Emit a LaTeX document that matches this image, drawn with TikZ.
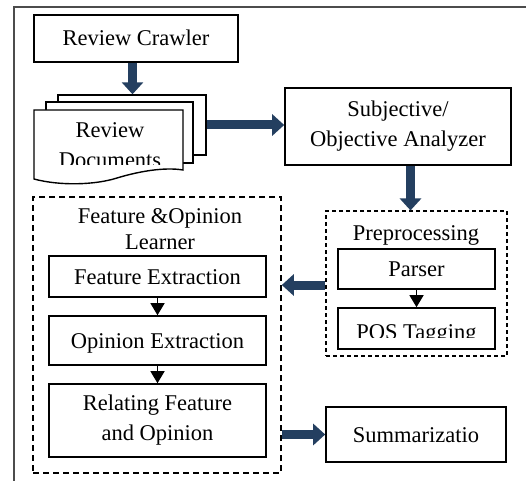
\documentclass[tikz,border=0pt]{standalone}
\usepackage{fontspec}
\setmainfont{Liberation Serif}
\usetikzlibrary{arrows.meta}
\definecolor{flownavy}{RGB}{36,63,96}
\begin{document}
\begin{tikzpicture}[x=1pt, y=-1pt,
    every node/.style={font=\fontsize{22.5}{30}\selectfont, inner sep=0pt},
    box/.style={draw, line width=1.6pt, fill=white, align=center},
    oneline/.style={text height=15pt, text depth=0pt},
    page/.style={draw, line width=1.4pt, fill=white},
    group/.style={draw, line width=1.6pt, dash pattern=on 6pt off 4pt},
    subgroup/.style={draw, line width=1.1pt, dash pattern=on 4pt off 3pt},
    bigarr/.style={flownavy, line width=9pt, -{Triangle[width=21pt,length=12pt]}},
    smallarr/.style={line width=1.4pt, -{Triangle[width=14pt,length=12pt]}}
  ]
  \useasboundingbox (0,0) rectangle (526,481);
  \draw[line width=1.3pt, black!70] (526,7) -- (14,7) -- (14,481);

  % crawler and documents
  \node[box, oneline, minimum width=204pt, minimum height=47pt] (crawler) at (136,38.5) {Review Crawler};
  \node[page, minimum width=148pt, minimum height=60pt] (back) at (132,125) {};
  \node[page, minimum width=147pt, minimum height=61pt] (mid) at (119.5,132.5) {};
  \draw[page] (34,110) -- (183,110) -- (183,170)
    .. controls (165,167) and (140,171) .. (117,178)
    .. controls (95,185) and (60,186) .. (34,179) -- cycle;
  \begin{scope}
    \clip (34,110) rectangle (183,164);
    \node[align=center, font=\fontsize{22.5}{29}\selectfont, anchor=base] (docs) at (110,167) {Review\\Documents};
  \end{scope}

  \node[box, minimum width=226pt, minimum height=77pt] (subj) at (398,126.5) {Subjective/\\Objective Analyzer};

  % preprocessing
  \node[subgroup, minimum width=181pt, minimum height=145pt] (prep) at (416.5,283.5) {};
  \node[anchor=base] (preplbl) at (416,240) {Preprocessing};
  \node[box, oneline, minimum width=157pt, minimum height=40pt] (parser) at (416.5,269) {Parser};
  \node[box, minimum width=157pt, minimum height=41pt] (pos) at (416.5,328.5) {};
  \begin{scope}
    \clip (338,310) rectangle (495,337);
    \node[anchor=base] (postxt) at (416.5,339) {POS Tagging};
  \end{scope}

  % feature and opinion learner
  \node[group, minimum width=248pt, minimum height=276pt] (learner) at (157,335) {};
  \node[align=center, font=\fontsize{22.5}{26}\selectfont, anchor=base] (learnlbl) at (160,249) {Feature \&Opinion\\Learner};
  \node[box, oneline, minimum width=217pt, minimum height=41pt] (featx) at (157.5,276.5) {Feature Extraction};
  \node[box, oneline, minimum width=217pt, minimum height=49pt] (opx) at (157.5,340.5) {Opinion Extraction};
  \node[box, minimum width=217pt, minimum height=73pt] (rel) at (157.5,420.5) {Relating Feature\\and Opinion};

  \node[box, oneline, minimum width=180pt, minimum height=55pt] (summ) at (416,434.5) {Summarizatio};

  % connectors
  \draw[bigarr] ([xshift=-3.5pt]crawler.south) -- ([xshift=-3.5pt]crawler.south |- back.north);
  \draw[bigarr] (back.east) -- (back.east -| subj.west);
  \draw[bigarr] ([xshift=-6pt]prep.north |- subj.south) -- ([xshift=-6pt]prep.north);
  \draw[bigarr] ([yshift=-1.5pt]prep.west) -- ([yshift=-1.5pt]prep.west -| learner.east);
  \draw[bigarr] (summ.west -| learner.east) -- (summ.west);
  \draw[smallarr] (featx.south) -- (opx.north);
  \draw[smallarr] (opx.south) -- (rel.north);
  \draw[smallarr] (parser.south) -- (pos.north);
\end{tikzpicture}
\end{document}
